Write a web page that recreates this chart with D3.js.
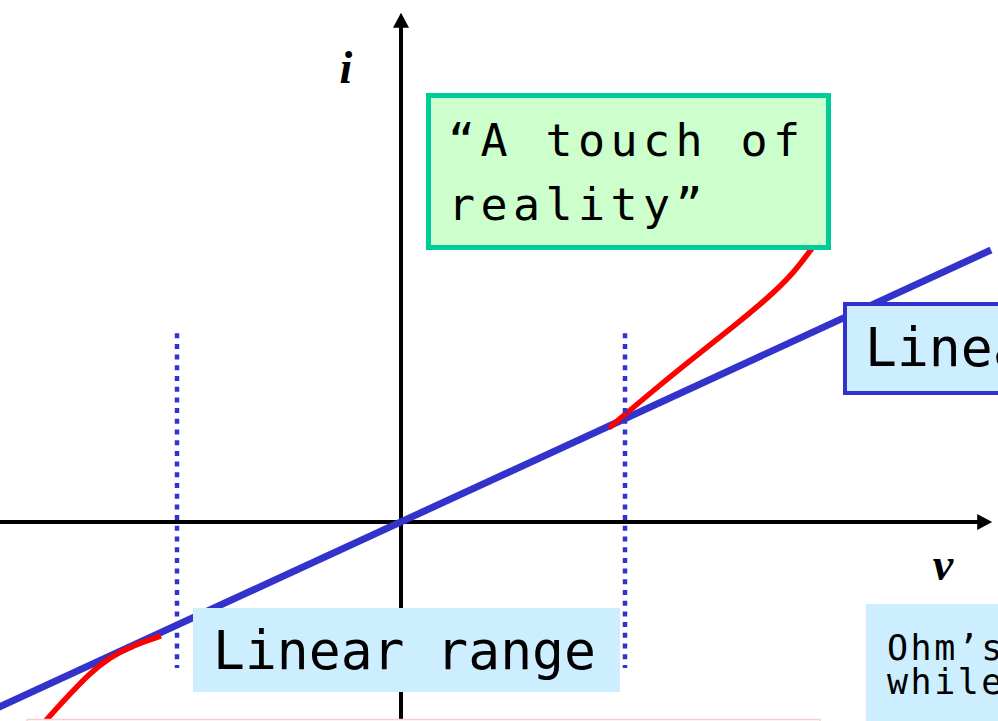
<!DOCTYPE html>
<html>
<head>
<meta charset="utf-8">
<script src="https://cdn.jsdelivr.net/npm/d3@7"></script>
<style>
  html, body { margin: 0; padding: 0; background: #fff; overflow: hidden; }
</style>
</head>
<body>
<script>
// Data (v, i in arbitrary units)
const ohmV = [-10.1, 14.75]
const ohmI = [-4.65, 6.8]

const realHighV = [5.2, 6.5, 7.5, 8.3, 9.15, 9.8, 10.3]
const realHighI = [2.35, 3.45, 4.25, 4.88, 5.58, 6.2, 6.88]

const realLowV = [-9.15, -8.9, -8.35, -7.78, -7.28, -6.7, -6.0]
const realLowI = [-5.3, -4.98, -4.38, -3.78, -3.38, -3.08, -2.85]

const limitV = [-5.6, 5.6]
const limitI = [-3.65, 4.72]

const axisV = [-10.1, 14.78]
const axisI = [-5, 12.73]

// Size
const width = 998
const height = 721

const svg = d3.select('body').append('svg')
    .attr('width', width)
    .attr('height', height)
    .style('display', 'block')
    .style('background-color', 'white')

// Scales
const xScale = d3.scaleLinear()
    .domain([-10, 15])
    .range([1, 1001])

const yScale = d3.scaleLinear()
    .domain([-5, 13])
    .range([722, 2])

const line = d3.line()
    .x(d => xScale(d[0]))
    .y(d => yScale(d[1]))

// Axes with arrow heads
const head = 15, half = 8
const x0 = xScale(0), y0 = yScale(0)
const xEnd = xScale(axisV[1]), yEnd = yScale(axisI[1])

svg.append('line')
    .attr('x1', xScale(axisV[0])).attr('y1', y0)
    .attr('x2', xEnd - head + 1).attr('y2', y0)
    .style('stroke', 'black').style('stroke-width', 4)

svg.append('path')
    .attr('d', `M${xEnd},${y0} L${xEnd - head},${y0 - half} L${xEnd - head},${y0 + half} Z`)
    .style('fill', 'black')

svg.append('line')
    .attr('x1', x0).attr('y1', yScale(axisI[0]))
    .attr('x2', x0).attr('y2', yEnd + head - 1)
    .style('stroke', 'black').style('stroke-width', 4)

svg.append('path')
    .attr('d', `M${x0},${yEnd} L${x0 - half},${yEnd + head} L${x0 + half},${yEnd + head} Z`)
    .style('fill', 'black')

// Axis labels
svg.append('text')
    .attr('x', 346).attr('y', 83)
    .attr('text-anchor', 'middle')
    .style('font-family', '"Liberation Serif", "DejaVu Serif", serif')
    .style('font-style', 'italic').style('font-weight', 'bold')
    .style('font-size', '46px')
    .text('i')

svg.append('text')
    .attr('x', 943).attr('y', 580)
    .attr('text-anchor', 'middle')
    .style('font-family', '"Liberation Serif", "DejaVu Serif", serif')
    .style('font-style', 'italic').style('font-weight', 'bold')
    .style('font-size', '46px')
    .text('v')

// Ohm's law line
svg.append('path')
    .datum(d3.zip(ohmV, ohmI))
    .attr('d', line)
    .style('fill', 'none')
    .style('stroke', '#3333cc')
    .style('stroke-width', 7)

// Real device curves
const curve = d3.line()
    .x(d => xScale(d[0]))
    .y(d => yScale(d[1]))
    .curve(d3.curveBasis)

svg.selectAll('.real')
    .data([d3.zip(realHighV, realHighI), d3.zip(realLowV, realLowI)])
    .enter().append('path')
    .attr('class', 'real')
    .attr('d', curve)
    .style('fill', 'none')
    .style('stroke', '#ff0000')
    .style('stroke-width', 5.5)

// Linear range limits
svg.selectAll('.limit')
    .data(limitV)
    .enter().append('line')
    .attr('class', 'limit')
    .attr('x1', d => xScale(d)).attr('x2', d => xScale(d))
    .attr('y1', yScale(limitI[1])).attr('y2', yScale(limitI[0]))
    .style('stroke', '#3333cc')
    .style('stroke-width', 4.5)
    .style('stroke-dasharray', '5,5.7')

// Boxes
const mono = '"DejaVu Sans Mono", monospace'

// "A touch of reality"
svg.append('rect')
    .attr('x', 428.5).attr('y', 95.5).attr('width', 400).attr('height', 152)
    .style('fill', '#ccffcc').style('stroke', '#00cc99').style('stroke-width', 5)

const touch = svg.append('text')
    .style('font-family', mono).style('font-size', '45px')
    .style('letter-spacing', '5.4px')
touch.append('tspan').attr('x', 448).attr('y', 156).text('\u201cA touch of')
touch.append('tspan').attr('x', 448).attr('y', 220).text('reality\u201d')

// Linear model (clipped at right)
svg.append('rect')
    .attr('x', 845).attr('y', 304).attr('width', 200).attr('height', 89)
    .style('fill', '#cceeff').style('stroke', '#3333cc').style('stroke-width', 4)

svg.append('text')
    .attr('x', 865).attr('y', 366)
    .style('font-family', mono).style('font-size', '53px')
    .text('Linear model')

// Linear range
svg.append('rect')
    .attr('x', 193).attr('y', 608).attr('width', 427).attr('height', 84)
    .style('fill', '#cceeff')

svg.append('text')
    .attr('x', 213).attr('y', 669)
    .style('font-family', mono).style('font-size', '53px')
    .text('Linear range')

// Ohm's law note (clipped)
svg.append('rect')
    .attr('x', 866).attr('y', 604).attr('width', 200).attr('height', 150)
    .style('fill', '#cceeff')

const note = svg.append('text')
    .style('font-family', mono).style('font-size', '35px')
    .style('letter-spacing', '2.5px')
note.append('tspan').attr('x', 887).attr('y', 660).text('Ohm\u2019s law')
note.append('tspan').attr('x', 887).attr('y', 694).text('while')

// Pink box at bottom edge
svg.append('rect')
    .attr('x', 27).attr('y', 719.5).attr('width', 793).attr('height', 60)
    .style('fill', 'white').style('stroke', '#ffcccc').style('stroke-width', 1.5)
</script>
</body>
</html>
